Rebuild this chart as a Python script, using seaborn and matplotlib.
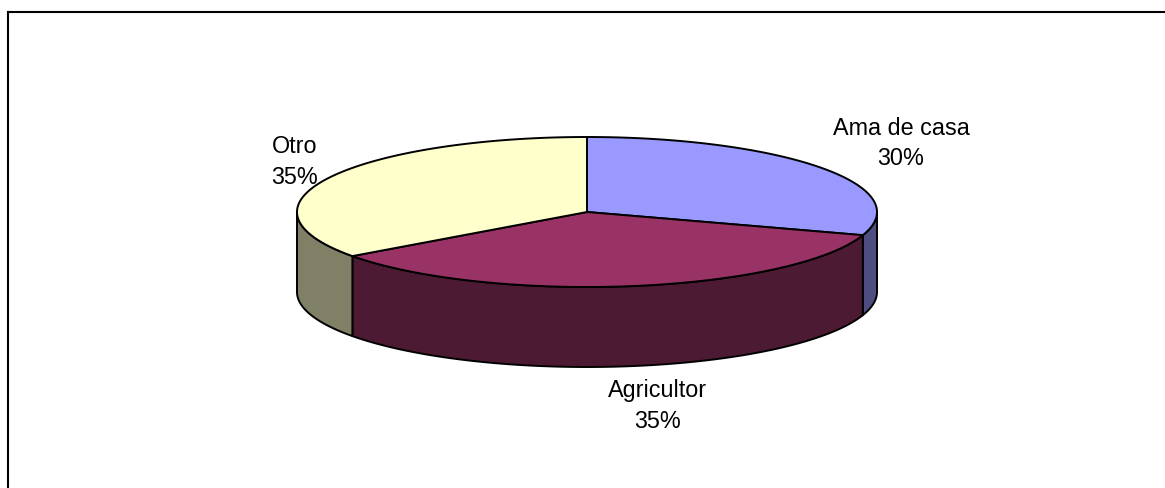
import numpy as np
import matplotlib
matplotlib.use("Agg")
import matplotlib.pyplot as plt
from matplotlib.patches import Polygon
import seaborn as sns

categories = ["Ama de casa", "Agricultor", "Otro"]
shares = [30, 35, 35]
top_colors = ["#9999FF", "#993366", "#FFFFCC"]
side_colors = ["#4D4D80", "#4D1A33", "#808066"]

sns.set_theme(style="white")
plt.rcParams["font.family"] = ["Liberation Sans", "DejaVu Sans"]

W, H = 1165, 489
fig = plt.figure(figsize=(W / 100, H / 100), dpi=100, facecolor="white")
ax = fig.add_axes([0, 0, 1, 1])
ax.set_xlim(0, W)
ax.set_ylim(H, 0)
ax.axis("off")

# Chart frame: its lower edge runs off the canvas
ax.plot([8.3, 8.3], [H + 5, 13], color="black", lw=1.5, solid_capstyle="projecting", solid_joinstyle="miter")
ax.plot([8.3, W + 5], [13, 13], color="black", lw=1.5)

cx, cy, rx, ry, depth = 587, 213, 290, 75, 80


def rim(t):
    return cx + rx * np.sin(t), cy - ry * np.cos(t)


edges = 2 * np.pi * np.cumsum([0] + shares) / sum(shares)
spans = list(zip(edges[:-1], edges[1:]))

# Side walls, only where the rim faces the viewer
for (a, b), side in zip(spans, side_colors):
    lo, hi = max(a, np.pi / 2), min(b, 3 * np.pi / 2)
    if hi <= lo:
        continue
    t = np.linspace(lo, hi, 160)
    x, y = rim(t)
    pts = np.r_[np.c_[x, y], np.c_[x[::-1], y[::-1] + depth]]
    ax.add_patch(Polygon(pts, closed=True, facecolor=side, edgecolor="black", lw=1.4, joinstyle="round", zorder=2))

# Top faces
for (a, b), top in zip(spans, top_colors):
    t = np.linspace(a, b, 200)
    x, y = rim(t)
    pts = np.r_[[[cx, cy]], np.c_[x, y]]
    ax.add_patch(Polygon(pts, closed=True, facecolor=top, edgecolor="black", lw=1.4, joinstyle="round", zorder=3))

# Labels outside each slice
label_pos = [(901, 143.5), (658, 406), (295, 162)]
for name, share, (lx, ly) in zip(categories, shares, label_pos):
    ax.text(lx, ly, f"{name}\n{share}%", ha="center", va="center", fontsize=16.8, color="black", linespacing=1.42, zorder=4)

fig.savefig("out.png", dpi=100, facecolor="white")
